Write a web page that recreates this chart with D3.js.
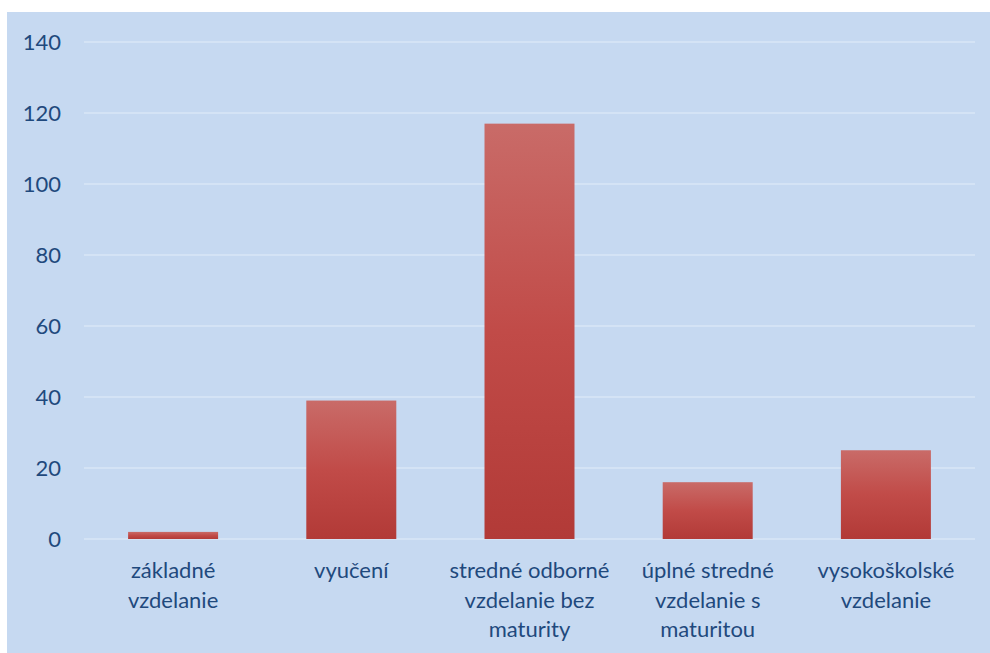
<!DOCTYPE html>
<html>
<head>
<meta charset="utf-8">
<script src="https://cdn.jsdelivr.net/npm/d3@7"></script>
<style>
  body { margin: 0; background: #fff; }
  svg { display: block; }
</style>
</head>
<body>
<div id="chart"></div>
<script>
// chart data
var categories = ["základné vzdelanie", "vyučení", "stredné odborné vzdelanie bez maturity", "úplné stredné vzdelanie s maturitou", "vysokoškolské vzdelanie"];
var labelLines = [["základné", "vzdelanie"], ["vyučení"], ["stredné odborné", "vzdelanie bez", "maturity"], ["úplné stredné", "vzdelanie s", "maturitou"], ["vysokoškolské", "vzdelanie"]];
var values = [2, 39, 117, 16, 25];
var yTicks = [0, 20, 40, 60, 80, 100, 120, 140];

var W = 990, H = 653;
var margin = {top: 42, right: 15, bottom: 114, left: 84};
var graphW = W - margin.left - margin.right;
var graphH = H - margin.top - margin.bottom;

var svg = d3.select("#chart").append("svg")
	.attr("width", W)
	.attr("height", H);

// light blue panel
svg.append("rect")
	.attr("x", 7).attr("y", 12)
	.attr("width", W - 7).attr("height", H - 12)
	.attr("fill", "#c6d9f1");

var defs = svg.append("defs");
var grad = defs.append("linearGradient")
	.attr("id", "barGrad")
	.attr("x1", 0).attr("y1", 0).attr("x2", 0).attr("y2", 1);
grad.append("stop").attr("offset", "0%").attr("stop-color", "#c96b68");
grad.append("stop").attr("offset", "50%").attr("stop-color", "#c14b48");
grad.append("stop").attr("offset", "100%").attr("stop-color", "#b23a37");

var g = svg.append("g")
	.attr("transform", "translate(" + margin.left + "," + margin.top + ")");

var x = d3.scaleBand()
	.domain(categories)
	.range([0, graphW])
	.paddingInner(0.495)
	.paddingOuter(0.2475);

var y = d3.scaleLinear()
	.domain([0, 140])
	.range([graphH, 0]);

// gridlines
g.append("g")
	.selectAll("line")
	.data(yTicks)
	.enter().append("line")
		.attr("x1", 0).attr("x2", graphW)
		.attr("y1", function(d) { return y(d); })
		.attr("y2", function(d) { return y(d); })
		.attr("stroke", "#d9e6f6")
		.attr("stroke-width", 1.5);

// y axis labels
var yAxis = g.append("g")
	.call(d3.axisLeft(y).tickValues(yTicks).tickSize(0).tickPadding(23));
yAxis.select(".domain").remove();
yAxis.selectAll("text")
	.style("font-family", "Lato, 'Open Sans', sans-serif")
	.style("font-size", "22px")
	.attr("fill", "#1f497d");

// bars
g.selectAll("rect.bar")
	.data(values)
	.enter().append("rect")
		.attr("class", "bar")
		.attr("x", function(d, i) { return x(categories[i]); })
		.attr("y", function(d) { return y(d); })
		.attr("width", x.bandwidth())
		.attr("height", function(d) { return graphH - y(d); })
		.attr("fill", "url(#barGrad)");

// x labels
var xl = g.append("g")
	.selectAll("text")
	.data(categories)
	.enter().append("text")
		.attr("x", function(d) { return x(d) + x.bandwidth() / 2; })
		.attr("y", graphH + 39)
		.attr("text-anchor", "middle")
		.style("font-family", "Lato, 'Open Sans', sans-serif")
		.style("font-size", "22px")
		.attr("fill", "#1f497d");

xl.each(function(d, i) {
	var t = d3.select(this);
	labelLines[i].forEach(function(line, j) {
		t.append("tspan")
			.attr("x", x(d) + x.bandwidth() / 2)
			.attr("dy", j === 0 ? 0 : 29.5)
			.text(line);
	});
});
</script>
</body>
</html>
